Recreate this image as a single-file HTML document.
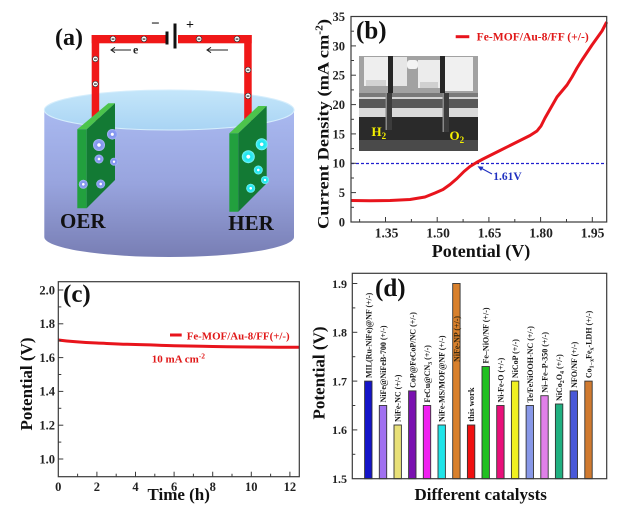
<!DOCTYPE html>
<html><head><meta charset="utf-8"><style>
html,body{margin:0;padding:0;background:#fff;}
svg{display:block;}
text{font-family:"Liberation Serif",serif;font-weight:bold;}
</style></head><body>
<svg width="619" height="509" viewBox="0 0 619 509" xmlns="http://www.w3.org/2000/svg">
<defs>
<linearGradient id="cyl" x1="0" y1="0" x2="0" y2="1">
<stop offset="0" stop-color="#a9b9f0"/><stop offset="0.5" stop-color="#98a4de"/><stop offset="1" stop-color="#787eb4"/>
</linearGradient>
<linearGradient id="topE" x1="0" y1="0" x2="0" y2="1">
<stop offset="0" stop-color="#c4e6fa"/><stop offset="1" stop-color="#a9d4f4"/>
</linearGradient>
<radialGradient id="bb"><stop offset="0.25" stop-color="#ffffff"/><stop offset="0.35" stop-color="#7f92ee"/><stop offset="0.8" stop-color="#8ea0f2"/><stop offset="1" stop-color="#b4c0f8"/></radialGradient>
<radialGradient id="cb"><stop offset="0.25" stop-color="#ffffff"/><stop offset="0.35" stop-color="#18e4ee"/><stop offset="0.8" stop-color="#3cecf2"/><stop offset="1" stop-color="#90f4f8"/></radialGradient>
</defs>
<rect width="619" height="509" fill="#fff"/>

<!-- ===== Panel (a) ===== -->
<path d="M44.3,110 L44.3,237 A124.85,20 0 0 0 294,237 L294,110 Z" fill="url(#cyl)"/>
<ellipse cx="169.2" cy="110" rx="124.85" ry="20" fill="url(#topE)" stroke="#d6eefc" stroke-width="1"/>

<!-- wires -->
<rect x="91.7" y="35" width="74" height="8.3" fill="#f01818"/>
<rect x="178" y="35" width="73.7" height="8.3" fill="#f01818"/>
<rect x="91.7" y="35" width="7.5" height="86" fill="#f01818"/>
<rect x="244.2" y="35" width="7.5" height="86" fill="#f01818"/>
<!-- battery -->
<rect x="165.5" y="31.5" width="3" height="13" fill="#111"/>
<rect x="173.5" y="23.5" width="3" height="25" fill="#111"/>
<text x="151" y="28" font-size="15" font-weight="normal" fill="#111">−</text>
<text x="186" y="29" font-size="14" font-weight="normal" fill="#111">+</text>
<!-- electrons on wire -->
<g fill="#fff" stroke="#333" stroke-width="0.7">
<circle cx="113" cy="39" r="2.8"/><circle cx="144" cy="39" r="2.8"/><circle cx="199" cy="39" r="2.8"/><circle cx="237" cy="39" r="2.8"/>
<circle cx="95.4" cy="59" r="2.8"/><circle cx="95.4" cy="84" r="2.8"/><circle cx="248" cy="70" r="2.8"/><circle cx="248" cy="96" r="2.8"/>
</g>
<g fill="#111">
<rect x="111.6" y="38.5" width="2.8" height="1.1"/><rect x="142.6" y="38.5" width="2.8" height="1.1"/><rect x="197.6" y="38.5" width="2.8" height="1.1"/><rect x="235.6" y="38.5" width="2.8" height="1.1"/>
<rect x="94" y="58.5" width="2.8" height="1.1"/><rect x="94" y="83.5" width="2.8" height="1.1"/><rect x="246.6" y="69.5" width="2.8" height="1.1"/><rect x="246.6" y="95.5" width="2.8" height="1.1"/>
</g>
<!-- arrows -->
<g stroke="#222" stroke-width="1" fill="none">
<line x1="111" y1="50" x2="131" y2="50"/><polyline points="115,47.3 111,50 115,52.7"/>
<line x1="207" y1="50" x2="228" y2="50"/><polyline points="211,47.3 207,50 211,52.7"/>
</g>
<text x="133" y="53.5" font-size="12" font-weight="normal" fill="#222">e</text>
<text x="55" y="45" font-size="24" fill="#111">(a)</text>

<!-- left electrode -->
<polygon points="77.3,129.3 86.7,129.3 115,103.3 108.3,103.3" fill="#4cc44c"/>
<polygon points="77.3,129.3 86.7,129.3 86.7,208.3 77.3,208.3" fill="#22a03e"/>
<polygon points="86.7,129.3 115,103.3 115,180 86.7,208.3" fill="#137a34"/>
<!-- right electrode -->
<polygon points="229.3,133.3 238.3,133.3 266.7,106 258.3,106" fill="#4cc44c"/>
<polygon points="229.3,133.3 238.3,133.3 238.3,211.7 229.3,211.7" fill="#22a03e"/>
<polygon points="238.3,133.3 266.7,106 266.7,183.3 238.3,211.7" fill="#137a34"/>
<!-- bubbles -->
<circle cx="112.3" cy="134.3" r="5.3" fill="url(#bb)"/>
<circle cx="99" cy="145" r="6" fill="url(#bb)"/>
<circle cx="99" cy="159" r="4.5" fill="url(#bb)"/>
<circle cx="114" cy="161.7" r="4" fill="url(#bb)"/>
<circle cx="83.3" cy="184.3" r="4.5" fill="url(#bb)"/>
<circle cx="100.7" cy="184" r="4.5" fill="url(#bb)"/>
<circle cx="261.7" cy="144.3" r="6" fill="url(#cb)"/>
<circle cx="248.3" cy="156.7" r="6.5" fill="url(#cb)"/>
<circle cx="258.3" cy="170" r="4.5" fill="url(#cb)"/>
<circle cx="265" cy="180" r="4" fill="url(#cb)"/>
<circle cx="250.7" cy="188.3" r="4.5" fill="url(#cb)"/>
<text x="60" y="228" font-size="21" fill="#111">OER</text>
<text x="228.3" y="230" font-size="21" fill="#111">HER</text>

<!-- ===== Panel (b) ===== -->
<!-- inset photo -->
<g>
<rect x="359" y="56" width="119" height="95" fill="#8a8a8a"/>
<rect x="359" y="56" width="119" height="37" fill="#a2a2a2"/>
<rect x="364" y="57" width="24" height="29" fill="#eeeeee"/>
<rect x="393" y="57" width="14" height="29" fill="#e6e6e6"/>
<rect x="407" y="60" width="11" height="9" rx="3" fill="#f4f4f4"/>
<rect x="418" y="60" width="22" height="28" fill="#ececec"/>
<rect x="445" y="57" width="28" height="34" fill="#f0f0f0"/>
<rect x="366" y="80" width="20" height="6" fill="#d2d2d2"/>
<rect x="420" y="82" width="18" height="6" fill="#d0d0d0"/>
<rect x="388" y="56" width="5" height="37" fill="#262626"/>
<rect x="440" y="56" width="5" height="37" fill="#262626"/>
<rect x="359" y="93" width="119" height="4" fill="#7a7a7a"/>
<rect x="359" y="97" width="119" height="2" fill="#d4d4d4"/>
<rect x="359" y="99" width="119" height="9" fill="#585858"/>
<rect x="359" y="108" width="119" height="9" fill="#dadada"/>
<rect x="359" y="117" width="119" height="34" fill="#2a2a2a"/>
<rect x="359" y="140" width="119" height="11" fill="#4a4a4a"/>
<rect x="385.5" y="93" width="6.5" height="37" fill="#3c3c3c"/>
<rect x="385.5" y="93" width="1.5" height="37" fill="#888"/>
<rect x="442.5" y="93" width="6.5" height="39" fill="#3c3c3c"/>
<rect x="442.5" y="93" width="1.5" height="39" fill="#888"/>
<text x="371.5" y="136" font-size="13" fill="#f4f000">H<tspan font-size="9" dy="3">2</tspan></text>
<text x="449.5" y="140" font-size="13" fill="#f4f000">O<tspan font-size="9" dy="3">2</tspan></text>
</g>
<!-- dashed line -->
<line x1="351" y1="163.5" x2="606.7" y2="163.5" stroke="#2020d0" stroke-width="1.2" stroke-dasharray="3,2"/>
<!-- curve -->
<path d="M351,200.5 L370,200.8 L390,200.5 L410,199.5 L425,197 L435,193 L443,189.5 L450,184.5 L457,178.5 L464,171.5 L470,166.5 L476.5,162.5 L483,159 L490,155.5 L500,150.5 L510,145.5 L520,140.5 L530,135.5 L537,131 L541,126 L545,118 L549,111 L553,104 L557,97 L562,91 L567,85 L572,77 L577,68 L582,60 L587,52.5 L592,45 L597,38 L602,31 L606.7,22" fill="none" stroke="#e8141c" stroke-width="3" stroke-linejoin="round"/>
<!-- arrow + label -->
<line x1="492" y1="174" x2="480" y2="167.5" stroke="#2030c0" stroke-width="1.2"/>
<polygon points="477.5,166.2 483.5,166.8 481,171" fill="#2030c0"/>
<text x="493.3" y="180" font-size="11.5" fill="#2030c0">1.61V</text>
<!-- legend -->
<line x1="455.7" y1="36.7" x2="469.3" y2="36.7" stroke="#e8141c" stroke-width="3"/>
<text x="476.7" y="40.5" font-size="11.5" fill="#e01818" textLength="112" lengthAdjust="spacingAndGlyphs">Fe-MOF/Au-8/FF (+/-)</text>
<text x="356" y="38.5" font-size="25" fill="#111">(b)</text>
<!-- frame + ticks -->
<rect x="351" y="16.5" width="255.7" height="205.5" fill="none" stroke="#3a3a3a" stroke-width="1.2"/>
<g stroke="#3a3a3a" stroke-width="1">
<line x1="385.5" y1="222" x2="385.5" y2="217"/><line x1="437.2" y1="222" x2="437.2" y2="217"/><line x1="488.9" y1="222" x2="488.9" y2="217"/><line x1="540.6" y1="222" x2="540.6" y2="217"/><line x1="592.3" y1="222" x2="592.3" y2="217"/>
<line x1="359.6" y1="222" x2="359.6" y2="219"/><line x1="411.4" y1="222" x2="411.4" y2="219"/><line x1="463.1" y1="222" x2="463.1" y2="219"/><line x1="514.8" y1="222" x2="514.8" y2="219"/><line x1="566.5" y1="222" x2="566.5" y2="219"/>
<line x1="351" y1="192.6" x2="356" y2="192.6"/><line x1="351" y1="163.3" x2="356" y2="163.3"/><line x1="351" y1="133.9" x2="356" y2="133.9"/><line x1="351" y1="104.6" x2="356" y2="104.6"/><line x1="351" y1="75.2" x2="356" y2="75.2"/><line x1="351" y1="45.9" x2="356" y2="45.9"/>
<line x1="351" y1="207.3" x2="354" y2="207.3"/><line x1="351" y1="178" x2="354" y2="178"/><line x1="351" y1="148.6" x2="354" y2="148.6"/><line x1="351" y1="119.3" x2="354" y2="119.3"/><line x1="351" y1="89.9" x2="354" y2="89.9"/><line x1="351" y1="60.5" x2="354" y2="60.5"/><line x1="351" y1="31.2" x2="354" y2="31.2"/>
</g>
<g font-size="12.5" fill="#222" text-anchor="end">
<text x="345" y="226.5">0</text><text x="345" y="197">5</text><text x="345" y="167.7">10</text><text x="345" y="138.3">15</text><text x="345" y="109">20</text><text x="345" y="79.6">25</text><text x="345" y="50.3">30</text><text x="345" y="21">35</text>
</g>
<g font-size="13.5" fill="#222" text-anchor="middle">
<text x="386.5" y="237.5">1.35</text><text x="438" y="237.5">1.50</text><text x="489.5" y="237.5">1.65</text><text x="541" y="237.5">1.80</text><text x="592.5" y="237.5">1.95</text>
</g>
<text x="481" y="257" font-size="18" fill="#111" text-anchor="middle">Potential (V)</text>
<text transform="translate(328.5,124) rotate(-90)" font-size="16" fill="#111" text-anchor="middle" textLength="210" lengthAdjust="spacingAndGlyphs">Current Density (mA cm<tspan font-size="10" dy="-6">-2</tspan><tspan dy="6">)</tspan></text>

<!-- ===== Panel (c) ===== -->
<path d="M58.3,340 C70,341.5 85,342.5 96.9,343 S120,344.2 135.5,344.5 S160,345.4 174.1,345.7 S200,346.3 212.7,346.5 S240,346.9 251.3,347 S285,347.3 299.3,347.3" fill="none" stroke="#e8141c" stroke-width="3"/>
<line x1="170" y1="335" x2="181.7" y2="335" stroke="#e8141c" stroke-width="3"/>
<text x="186.7" y="339.5" font-size="11" fill="#e01818" textLength="103" lengthAdjust="spacingAndGlyphs">Fe-MOF/Au-8/FF(+/-)</text>
<text x="151.7" y="362.5" font-size="11" fill="#e01818">10 mA cm<tspan font-size="7.5" dy="-4">-2</tspan></text>
<text x="63" y="302" font-size="25" fill="#111">(c)</text>
<rect x="58.3" y="281.7" width="241" height="195" fill="none" stroke="#3a3a3a" stroke-width="1.2"/>
<g stroke="#3a3a3a" stroke-width="1">
<line x1="96.9" y1="476.7" x2="96.9" y2="471.7"/><line x1="135.5" y1="476.7" x2="135.5" y2="471.7"/><line x1="174.1" y1="476.7" x2="174.1" y2="471.7"/><line x1="212.7" y1="476.7" x2="212.7" y2="471.7"/><line x1="251.3" y1="476.7" x2="251.3" y2="471.7"/><line x1="289.9" y1="476.7" x2="289.9" y2="471.7"/>
<line x1="77.6" y1="476.7" x2="77.6" y2="473.7"/><line x1="116.2" y1="476.7" x2="116.2" y2="473.7"/><line x1="154.8" y1="476.7" x2="154.8" y2="473.7"/><line x1="193.4" y1="476.7" x2="193.4" y2="473.7"/><line x1="232" y1="476.7" x2="232" y2="473.7"/><line x1="270.6" y1="476.7" x2="270.6" y2="473.7"/>
<line x1="58.3" y1="290" x2="63.3" y2="290"/><line x1="58.3" y1="323.8" x2="63.3" y2="323.8"/><line x1="58.3" y1="357.6" x2="63.3" y2="357.6"/><line x1="58.3" y1="391.4" x2="63.3" y2="391.4"/><line x1="58.3" y1="425.2" x2="63.3" y2="425.2"/><line x1="58.3" y1="459" x2="63.3" y2="459"/>
<line x1="58.3" y1="306.9" x2="61.3" y2="306.9"/><line x1="58.3" y1="340.7" x2="61.3" y2="340.7"/><line x1="58.3" y1="374.5" x2="61.3" y2="374.5"/><line x1="58.3" y1="408.3" x2="61.3" y2="408.3"/><line x1="58.3" y1="442.1" x2="61.3" y2="442.1"/>
</g>
<g font-size="12.5" fill="#222" text-anchor="end">
<text x="55" y="294.3">2.0</text><text x="55" y="328.1">1.8</text><text x="55" y="361.9">1.6</text><text x="55" y="395.7">1.4</text><text x="55" y="429.5">1.2</text><text x="55" y="463.3">1.0</text>
</g>
<g font-size="12.5" fill="#222" text-anchor="middle">
<text x="58.3" y="491">0</text><text x="96.9" y="491">2</text><text x="135.5" y="491">4</text><text x="174.1" y="491">6</text><text x="212.7" y="491">8</text><text x="251.3" y="491">10</text><text x="289.9" y="491">12</text>
</g>
<text x="178.7" y="500" font-size="17" fill="#111" text-anchor="middle">Time (h)</text>
<text transform="translate(32,384) rotate(-90)" font-size="17" fill="#111" text-anchor="middle">Potential (V)</text>

<!-- ===== Panel (d) ===== -->
<g stroke="#333" stroke-width="0.9">
<rect x="364.6" y="381.1" width="7.4" height="97.6" fill="#1414c8"/>
<rect x="379.3" y="405.5" width="7.4" height="73.2" fill="#a070f0"/>
<rect x="394" y="425" width="7.4" height="53.7" fill="#e8e078"/>
<rect x="408.6" y="390.9" width="7.4" height="87.8" fill="#7a10b0"/>
<rect x="423.3" y="405.5" width="7.4" height="73.2" fill="#f020f0"/>
<rect x="438" y="425" width="7.4" height="53.7" fill="#20e4e8"/>
<rect x="452.7" y="283.5" width="7.4" height="195.2" fill="#d8802c"/>
<rect x="467.4" y="425" width="7.4" height="53.7" fill="#f01010"/>
<rect x="482" y="366.5" width="7.4" height="112.2" fill="#20c020"/>
<rect x="496.7" y="405.5" width="7.4" height="73.2" fill="#e8107a"/>
<rect x="511.4" y="381.1" width="7.4" height="97.6" fill="#f0f020"/>
<rect x="526.1" y="405.5" width="7.4" height="73.2" fill="#8898e8"/>
<rect x="540.8" y="395.7" width="7.4" height="83" fill="#e080e8"/>
<rect x="555.4" y="404" width="7.4" height="74.7" fill="#20b080"/>
<rect x="570.1" y="390.9" width="7.4" height="87.8" fill="#4858d8"/>
<rect x="584.8" y="381.1" width="7.4" height="97.6" fill="#d07a30"/>
</g>
<g font-size="8" fill="#1a1a1a">
<text transform="translate(371.3,378) rotate(-90)">MIL(Ru-NiFe)@NF (+/-)</text>
<text transform="translate(386,402.5) rotate(-90)">NiFe@NiFeB-700 (+/-)</text>
<text transform="translate(400.7,422) rotate(-90)">NiFe-NC (+/-)</text>
<text transform="translate(415.3,387.9) rotate(-90)">CoP@FeCoP/NC (+/-)</text>
<text transform="translate(430,402.5) rotate(-90)">FeCu@CN<tspan font-size="6" dy="2">3</tspan><tspan dy="-2"> (+/-)</tspan></text>
<text transform="translate(444.7,422) rotate(-90)">NiFe-MS/MOF@NF (+/-)</text>
<text transform="translate(459.4,362) rotate(-90)" fill="#3a2a10">NiFe-NP (+/-)</text>
<text transform="translate(474.1,421.7) rotate(-90)" font-size="8.5">this work</text>
<text transform="translate(488.7,363.5) rotate(-90)">Fe–NiO/NF (+/-)</text>
<text transform="translate(503.4,402.5) rotate(-90)">Ni-Fe-O (+/-)</text>
<text transform="translate(518.1,378.1) rotate(-90)">NiCoP (+/-)</text>
<text transform="translate(532.8,402.5) rotate(-90)">Te/FeNiOOH-NC (+/-)</text>
<text transform="translate(547.5,392.7) rotate(-90)">Ni–Fe–P-350 (+/-)</text>
<text transform="translate(562.1,401) rotate(-90)">NiCo<tspan font-size="6" dy="2">2</tspan><tspan dy="-2">O</tspan><tspan font-size="6" dy="2">4</tspan><tspan dy="-2"> (+/-)</tspan></text>
<text transform="translate(576.8,387.9) rotate(-90)">NFO/NF (+/-)</text>
<text transform="translate(591.5,378.1) rotate(-90)">Co<tspan font-size="6" dy="2">1−x</tspan><tspan dy="-2">Fe</tspan><tspan font-size="6" dy="2">x</tspan><tspan dy="-2">-LDH (+/-)</tspan></text>
</g>
<text x="375" y="296" font-size="25" fill="#111">(d)</text>
<rect x="352.3" y="273.3" width="254.4" height="205.4" fill="none" stroke="#3a3a3a" stroke-width="1.2"/>
<g stroke="#3a3a3a" stroke-width="1">
<line x1="352.3" y1="429.9" x2="357.3" y2="429.9"/><line x1="352.3" y1="381.1" x2="357.3" y2="381.1"/><line x1="352.3" y1="332.3" x2="357.3" y2="332.3"/><line x1="352.3" y1="283.5" x2="357.3" y2="283.5"/>
<line x1="352.3" y1="454.3" x2="355.3" y2="454.3"/><line x1="352.3" y1="405.5" x2="355.3" y2="405.5"/><line x1="352.3" y1="356.7" x2="355.3" y2="356.7"/><line x1="352.3" y1="307.9" x2="355.3" y2="307.9"/>
</g>
<g font-size="12" fill="#222" text-anchor="end">
<text x="347" y="483">1.5</text><text x="347" y="434.2">1.6</text><text x="347" y="385.4">1.7</text><text x="347" y="336.6">1.8</text><text x="347" y="287.8">1.9</text>
</g>
<text x="480.7" y="500" font-size="17" fill="#111" text-anchor="middle">Different catalysts</text>
<text transform="translate(324.5,373) rotate(-90)" font-size="17" fill="#111" text-anchor="middle">Potential (V)</text>
</svg>
</body></html>
